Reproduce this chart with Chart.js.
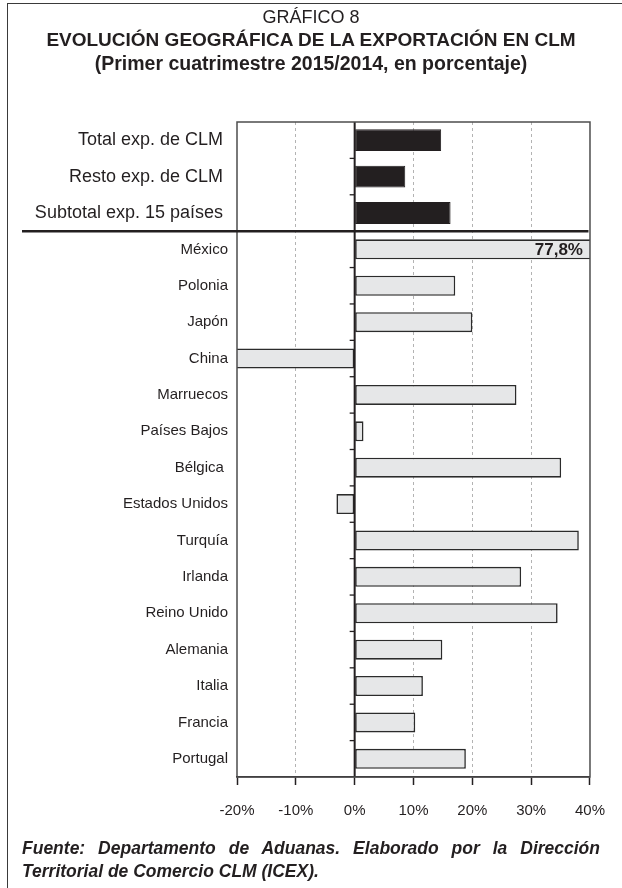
<!DOCTYPE html>
<html lang="es">
<head>
<meta charset="utf-8">
<title>Gráfico 8</title>
<script src="https://cdn.jsdelivr.net/npm/chart.js@4.4.1/dist/chart.umd.min.js"></script>
<style>
  html, body { margin: 0; padding: 0; background: #fff; }
  body { width: 622px; height: 888px; position: relative; overflow: hidden;
         font-family: "Liberation Sans", Arial, sans-serif; color: #231f20; }
  #marco { position: absolute; left: 7px; top: 3px; width: 700px; height: 1000px;
           border-top: 1.5px solid #3a3a3a; border-left: 1.5px solid #3a3a3a; }
  #grafico { position: absolute; left: 0; top: 0; }
  .tit { position: absolute; left: 0; width: 622px; text-align: center; font-size: 18px; line-height: 22px; }
  #t1 { top: 6px; }
  #t2 { top: 29px; font-weight: bold; font-size: 19px; }
  #t3 { top: 52px; font-weight: bold; font-size: 19.5px; }
  #fuente { position: absolute; left: 22px; top: 837px; width: 578px; font-size: 17.5px; line-height: 23px;
            font-weight: bold; font-style: italic; text-align: justify; }
</style>
</head>
<body>
<div id="marco"></div>
<canvas id="grafico" width="622" height="888"></canvas>
<div class="tit" id="t1">GRÁFICO 8</div>
<div class="tit" id="t2">EVOLUCIÓN GEOGRÁFICA DE LA EXPORTACIÓN EN CLM</div>
<div class="tit" id="t3">(Primer cuatrimestre 2015/2014, en porcentaje)</div>
<div id="fuente">Fuente: Departamento de Aduanas. Elaborado por la Dirección Territorial de Comercio CLM (ICEX).</div>

<script>
// variación interanual, primer cuatrimestre 2015/2014 (%)
const resumen = ['Total exp. de CLM ', 'Resto exp. de CLM ', 'Subtotal exp. 15 países '];
const resumenVar = [14.7, 8.6, 16.3];

const paises = ['México', 'Polonia', 'Japón', 'China', 'Marruecos', 'Países Bajos', 'Bélgica ',
  'Estados Unidos', 'Turquía', 'Irlanda', 'Reino Unido', 'Alemania', 'Italia', 'Francia', 'Portugal'];
const paisesVar = [77.8, 17.1, 20.0, -21.9, 27.5, 1.5, 35.1, -3.1, 38.1, 28.3, 34.5, 14.9, 11.6, 10.3, 18.9];

const ejeMin = -20;
const ejeMax = 40;
const ejePaso = 10;

const fuente = '"Liberation Sans", Arial, sans-serif';
const negro = '#231f20';

Chart.defaults.font.family = fuente;
Chart.defaults.color = negro;

var etiquetas = resumen.concat(paises);
var datosResumen = resumenVar.concat(paises.map(() => null));
var datosPaises = resumen.map(() => null).concat(paisesVar);

// recuadro, línea del cero, separador y rótulo de la barra que se sale de escala
const marco = {
  id: 'marco',
  afterDatasetsDraw(chart) {
    const ctx = chart.ctx;
    const a = chart.chartArea;
    const x = chart.scales.x;
    const y = chart.scales.y;
    const x0 = x.getPixelForValue(0);

    ctx.save();
    ctx.strokeStyle = negro;
    ctx.lineWidth = 1.3;
    for (let i = 1; i < y.ticks.length; i++) {
      let yy = (y.getPixelForTick(i - 1) + y.getPixelForTick(i)) / 2;
      ctx.beginPath();
      ctx.moveTo(x0 - 5, yy);
      ctx.lineTo(x0, yy);
      ctx.stroke();
    }

    ctx.lineWidth = 2;
    ctx.beginPath();
    ctx.moveTo(x0, a.top);
    ctx.lineTo(x0, a.bottom);
    ctx.stroke();

    ctx.strokeStyle = '#4d4d4d';
    ctx.lineWidth = 1.5;
    ctx.strokeRect(a.left, a.top, a.right - a.left, a.bottom - a.top);

    let ySep = (y.getPixelForTick(resumen.length - 1) + y.getPixelForTick(resumen.length)) / 2;
    ctx.strokeStyle = negro;
    ctx.lineWidth = 2.5;
    ctx.beginPath();
    ctx.moveTo(a.left - 215, ySep);
    ctx.lineTo(a.right - 1.5, ySep);
    ctx.stroke();

    const meta = chart.getDatasetMeta(1);
    ctx.fillStyle = negro;
    ctx.font = 'bold 17px ' + fuente;
    ctx.textAlign = 'right';
    ctx.textBaseline = 'middle';
    paisesVar.forEach((v, i) => {
      if (v > ejeMax) {
        let bar = meta.data[resumen.length + i];
        ctx.fillText(v.toFixed(1).replace('.', ',') + '%', a.right - 7, bar.y + 1);
      }
    });
    ctx.restore();
  }
};

new Chart(document.getElementById('grafico'), {
  type: 'bar',
  data: {
    labels: etiquetas,
    datasets: [{
      label: 'Resumen',
      data: datosResumen,
      backgroundColor: negro,
      borderColor: negro,
      borderWidth: 1,
      borderSkipped: false,
      barPercentage: 0.6,
      categoryPercentage: 1,
      grouped: false,
      clip: 0
    }, {
      label: 'Países',
      data: datosPaises,
      backgroundColor: '#e6e7e8',
      borderColor: '#2b2b2b',
      borderWidth: 1.6,
      borderSkipped: false,
      barPercentage: 0.55,
      categoryPercentage: 1,
      grouped: false,
      clip: 0
    }]
  },
  plugins: [marco],
  options: {
    indexAxis: 'y',
    responsive: false,
    animation: false,
    layout: { padding: { top: 122, right: 29, bottom: 0, left: 0 } },
    plugins: {
      legend: { display: false },
      tooltip: { enabled: false }
    },
    scales: {
      x: {
        min: ejeMin,
        max: ejeMax,
        afterFit: (s) => { s.height = 111; },
        ticks: {
          stepSize: ejePaso,
          padding: 17,
          font: { size: 15 },
          color: negro,
          callback: (v) => v + '%'
        },
        grid: {
          color: (c) => {
            if (!c.tick) return '#b3b3b3';
            if (c.tick.value === 0) return negro;
            if (c.tick.value === ejeMin || c.tick.value === ejeMax) return 'rgba(0,0,0,0)';
            return '#b3b3b3';
          },
          lineWidth: 1,
          tickColor: negro,
          tickLength: 8,
          tickWidth: 1.5
        },
        border: {
          color: negro,
          width: 1.5,
          dash: (c) => (c.tick && c.tick.value !== 0) ? [3, 3] : []
        }
      },
      y: {
        afterFit: (s) => { s.width = 237; },
        grid: { display: false, drawTicks: false },
        border: { display: false },
        ticks: {
          padding: 9,
          color: negro,
          font: (c) => ({ size: c.index < resumen.length ? 18 : 15 })
        }
      }
    }
  }
});
</script>
</body>
</html>
